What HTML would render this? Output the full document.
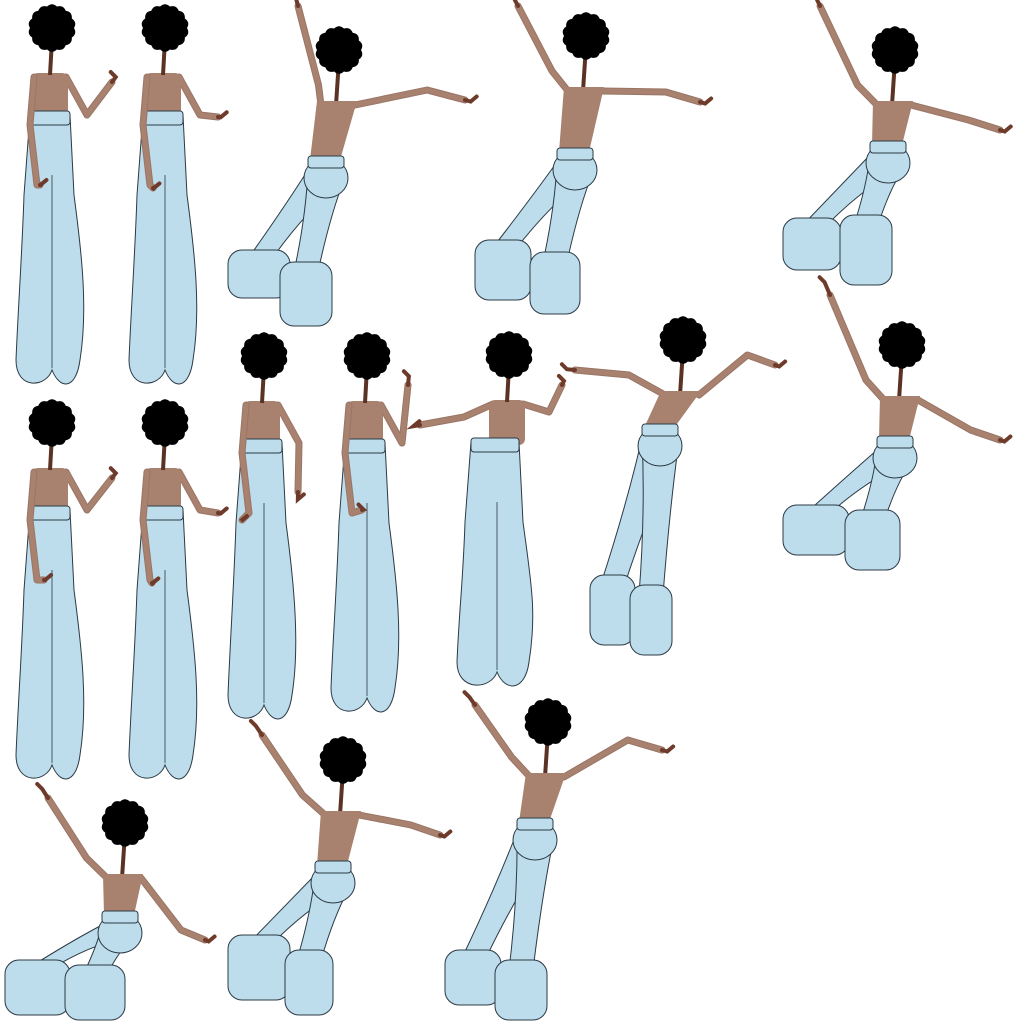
<!DOCTYPE html>
<html><head><meta charset="utf-8"><style>
html,body{margin:0;padding:0;background:#fff;width:1024px;height:1024px;overflow:hidden}
</style></head><body>
<svg id="sheet" width="1024" height="1024" viewBox="0 0 1024 1024" xmlns="http://www.w3.org/2000/svg"></svg>
<script>
const NS='http://www.w3.org/2000/svg';
const svg=document.getElementById('sheet');
const SKIN='#a8816f', HAND='#6e3a2a', PANT='#bddcec', LINE='#2b3a44';
function el(tag,attrs,parent){const e=document.createElementNS(NS,tag);for(const k in attrs)e.setAttribute(k,attrs[k]);(parent||svg).appendChild(e);return e;}
function afro(g,x,y,r){
  const n=14;let d='';
  for(let i=0;i<=n;i++){const a=i/n*Math.PI*2;const px=x+r*Math.cos(a),py=y+r*Math.sin(a);
    if(i===0)d+='M'+px+' '+py;else{const am=(i-0.5)/n*Math.PI*2;d+=' Q'+(x+(r+4)*Math.cos(am))+' '+(y+(r+4)*Math.sin(am))+' '+px+' '+py;}}
  const h=el('path',{d:d+'Z',fill:'#000'},g);
  
  
}
function arm(g,pts){
  const s=pts.map(p=>p.join(',')).join(' ');
  el('polyline',{points:s,fill:'none',stroke:'#9a7566','stroke-width':7,'stroke-linecap':'round','stroke-linejoin':'round'},g);
  el('polyline',{points:s,fill:'none',stroke:SKIN,'stroke-width':5,'stroke-linecap':'round','stroke-linejoin':'round'},g);
  const a=pts[pts.length-2],b=pts[pts.length-1];
  const hx=b[0]+(b[0]-a[0])*0.15,hy=b[1]+(b[1]-a[1])*0.15;
  el('polyline',{points:`${b[0]},${b[1]} ${hx},${hy} ${hx+(b[1]<a[1]?-5:6)},${hy-5}`,fill:'none',stroke:HAND,'stroke-width':4,'stroke-linecap':'round'},g);
}
function pants(g,cx,top,bottom,w){
  const d=`M${cx-w+8},${top} L${cx+w-12},${top} L${cx+w-8},${top+80} C${cx+w},${top+140} ${cx+w+6},${bottom-80} ${cx+w-2},${bottom-30} C${cx+w-6},${bottom} ${cx+8},${bottom} ${cx},${bottom-20} C${cx-6},${bottom-2} ${cx-w-6},${bottom} ${cx-w-6},${bottom-30} C${cx-w-4},${bottom-80} ${cx-w},${top+140} ${cx-w+2},${top+80} Z`;
  el('path',{d,fill:PANT,stroke:LINE,'stroke-width':1},g);
  el('line',{x1:cx,y1:top+60,x2:cx,y2:bottom-22,stroke:LINE,'stroke-width':0.8},g);
  el('rect',{x:cx-w+8,y:top-4,width:2*w-20,height:14,rx:3,fill:PANT,stroke:LINE,'stroke-width':1},g);
}
function standing(name,cx,hy,bottom,lh,rh){
  const g=el('g',{});
  const ty=hy+45;
  arm(g,[[cx+14,ty+2],[cx+35,ty+40],rh]);
  el('rect',{x:cx-20,y:ty-2,width:36,height:45,rx:6,fill:SKIN},g);
  el('line',{x1:cx,y1:hy+10,x2:cx-2,y2:ty,stroke:'#5a3324','stroke-width':4},g);
  pants(g,cx,ty+40,bottom,30);
  arm(g,[[cx-18,ty+2],[cx-22,ty+50],[cx-15,ty+110],lh]);
  afro(g,cx,hy-2,22);
}
function standingOpen(name,cx,hy,bottom,lh,rh){
  const g=el('g',{});
  const ty=hy+45;
  arm(g,[[cx-16,ty+2],[cx-45,ty+15],lh]);
  arm(g,[[cx+14,ty+2],[cx+40,ty+10],rh]);
  el('rect',{x:cx-20,y:ty-2,width:36,height:45,rx:6,fill:SKIN},g);
  el('line',{x1:cx,y1:hy+10,x2:cx-2,y2:ty,stroke:'#5a3324','stroke-width':4},g);
  pants(g,cx-12,ty+40,bottom,34);
  afro(g,cx,hy-2,22);
}
function crouch(name,hx,hy,wx,wy,feet,lh,rh){
  const g=el('g',{});
  const sy=hy+55;
  arm(g,[[hx-18,sy],[lh[0]+(hx-lh[0])*0.5,sy-20],lh]);
  arm(g,[[hx+16,sy],[rh[0]-(rh[0]-hx)*0.3,rh[1]-10],rh]);
  el('line',{x1:hx,y1:hy+10,x2:hx-3,y2:sy,stroke:'#5a3324','stroke-width':4},g);
  el('path',{d:`M${hx-22},${sy-4} L${hx+18},${sy-4} L${wx+14},${wy} L${wx-16},${wy} Z`,fill:SKIN},g);
  feet.forEach(f=>{
    const fx=f[0]+f[2]/2,fy=f[1]+10;
    el('path',{d:`M${wx-18},${wy+10} Q${(wx+fx)/2-10},${(wy+fy)/2} ${fx-12},${fy} L${fx+12},${fy} Q${(wx+fx)/2+14},${(wy+fy)/2} ${wx+18},${wy+20} Z`,fill:PANT,stroke:LINE,'stroke-width':1},g);
  });
  feet.forEach(f=>{el('rect',{x:f[0],y:f[1],width:f[2],height:f[3],rx:14,fill:PANT,stroke:LINE,'stroke-width':1},g);});
  el('ellipse',{cx:wx,cy:wy+18,rx:22,ry:20,fill:PANT,stroke:LINE,'stroke-width':1},g);
  el('rect',{x:wx-18,y:wy-4,width:36,height:12,rx:3,fill:PANT,stroke:LINE,'stroke-width':1},g);
  afro(g,hx,hy,22);
}
standing('figure-1',52,30,390,[40,185],[112,82]);
standing('figure-2',165,30,390,[153,188],[218,117]);
standing('figure-6',52,425,785,[44,580],[112,478]);
standing('figure-7',165,425,785,[152,583],[218,513]);
standing('figure-8',264,358,725,[242,520],[298,492]);
standing('figure-9',367,358,718,[362,510],[408,385]);
standingOpen('figure-10',509,357,692,[420,425],[562,385]);
crouch('figure-3',339,50,326,160,[[228,250,62,48],[280,262,52,64]],[298,6],[465,100]);
crouch('figure-4',586,36,575,152,[[475,240,56,60],[530,252,50,62]],[518,6],[700,102]);
crouch('figure-5',895,50,888,145,[[783,218,58,52],[840,215,52,70]],[820,6],[1000,130]);
crouch('figure-11',683,340,660,428,[[590,575,45,70],[630,585,42,70]],[575,370],[775,365]);
crouch('figure-12',902,345,895,440,[[783,505,66,50],[845,510,55,60]],[830,295],[1000,440]);
crouch('figure-13',125,823,120,915,[[5,960,65,55],[65,965,60,55]],[48,798],[205,940]);
crouch('figure-14',343,760,333,865,[[228,935,62,65],[285,950,48,65]],[262,735],[440,835]);
crouch('figure-15',548,722,535,822,[[445,950,56,55],[495,960,52,60]],[475,705],[662,750]);
</script>
</body></html>
